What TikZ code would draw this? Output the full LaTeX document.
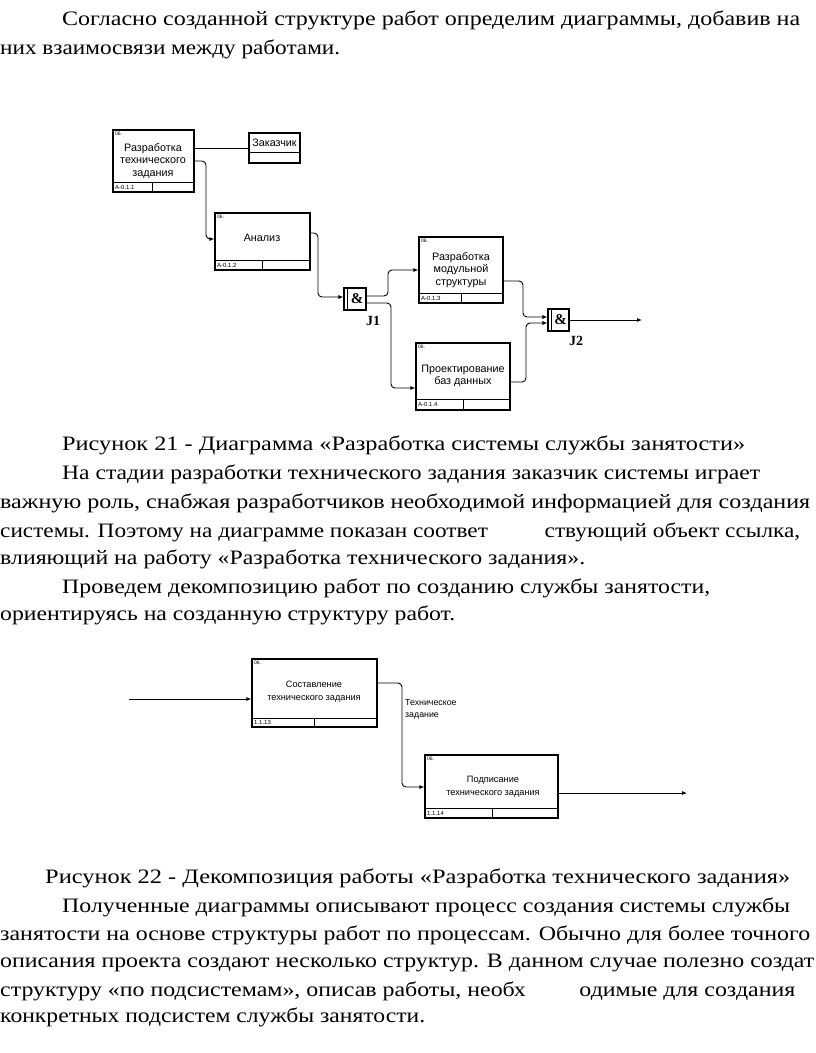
\documentclass[tikz,border=0pt]{standalone}
\usepackage{fontspec}
\setmainfont{Liberation Serif}
\newfontfamily\arialf{Liberation Sans}
\usetikzlibrary{arrows.meta,fit}
\newcommand\tline[5]{\node[anchor=base west, inner sep=0] (#1) at (#2,-#3) {\resizebox{#4pt}{\height}{#5}};}
\begin{document}
\begin{tikzpicture}[x=1pt,y=1pt,
  every node/.append style={font=\fontsize{20.5}{24}\selectfont},
  fbox/.style={draw, line width=1.2pt, inner sep=0pt},
  strip/.style={line width=1pt},
  btxt/.style={font=\arialf\fontsize{10.8}{12.6}\selectfont, align=center, inner sep=0pt},
  btxtb/.style={font=\arialf\fontsize{9.2}{13}\selectfont, align=center, inner sep=0pt},
  tinyl/.style={font=\arialf\fontsize{5}{6}\selectfont, inner sep=0pt, anchor=north west},
  idl/.style={font=\arialf\fontsize{6}{7}\selectfont, inner sep=0pt, anchor=west},
  conn/.style={line width=0.9pt, rounded corners=4pt},
  arr/.style={conn, -{Latex[length=5pt,width=4pt]}},
  jbox/.style={draw, line width=1.1pt, inner sep=0pt},
  jamp/.style={font=\bfseries\fontsize{15}{15}\selectfont, inner sep=0pt},
  jlab/.style={font=\bfseries\fontsize{14}{14}\selectfont, inner sep=0pt}
]
\useasboundingbox (0,0) rectangle (816,-1053);

% ---------------- text ----------------
\tline{t1}{62}{25}{738}{Согласно созданной структуре работ определим диаграммы, добавив на}
\tline{t2}{0}{54}{340}{них взаимосвязи между работами.}
\tline{t3}{62}{450}{683}{Рисунок 21 - Диаграмма «Разработка системы службы занятости»}
\tline{t4}{62}{479}{698}{На стадии разработки технического задания заказчик системы играет}
\tline{t5}{0}{508}{810}{важную роль, снабжая разработчиков необходимой информацией для создания}
\tline{t6}{0}{537}{800}{системы. Поэтому на диаграмме показан соответ\hspace{50pt}ствующий объект ссылка,}
\tline{t7}{0}{564}{585}{влияющий на работу «Разработка технического задания».}
\tline{t8}{62}{593}{648}{Проведем декомпозицию работ по созданию службы занятости,}
\tline{t9}{0}{620}{455}{ориентируясь на созданную структуру работ.}
\tline{t10}{45}{883}{745}{Рисунок 22 - Декомпозиция работы «Разработка технического задания»}
\tline{t11}{62}{912}{728}{Полученные диаграммы описывают процесс создания системы службы}
\tline{t12}{0}{940}{810}{занятости на основе структуры работ по процессам. Обычно для более точного}
\tline{t13}{0}{967}{814}{описания проекта создают несколько структур. В данном случае полезно создат}
\tline{t14}{0}{996}{795}{структуру «по подсистемам», описав работы, необх\hspace{46pt}одимые для создания}
\tline{t15}{0}{1022}{425}{конкретных подсистем службы занятости.}

% ---------------- diagram 1 ----------------
% box 1
\node[fbox, fit={(113,-130)(194,-192)}] (b1) {};
\draw[strip] (b1.west |- 0,-182) -- (b1.east |- 0,-182);
\draw[strip] (152,-182) -- (b1.south -| 152,0);
\node[btxt] (b1t) at (153,-161) {Разработка\\технического\\задания};
\node[tinyl] (b1n) at (115,-132) {06.};
\node[idl] (b1i) at (115,-187) {A-0.1.1};

% Заказчик
\node[fbox, fit={(249,-133)(300,-163)}] (zak) {};
\draw[strip] (zak.west |- 0,-152) -- (zak.east |- 0,-152);
\node[btxt] (zakt) at (274.5,-142.5) {Заказчик};
\draw[conn] (b1.east |- 0,-148) -- (zak.west |- 0,-148);

% Анализ
\node[fbox, fit={(215,-213)(310,-270)}] (an) {};
\draw[strip] (an.west |- 0,-260) -- (an.east |- 0,-260);
\draw[strip] (262,-260) -- (an.south -| 262,0);
\node[btxt] (ant) at (262,-238) {Анализ};
\node[tinyl] (ann) at (217,-215) {06.};
\node[idl] (ani) at (217,-265) {A-0.1.2};
\draw[arr] (b1.east |- 0,-161) -- (206,-161) -- (206,-239) -- (an.west |- 0,-239);

% J1
\node[jbox, fit={(344,-288)(366,-310)}] (j1) {};
\draw[line width=1.1pt] (347.5,-288) -- (347.5,-310);
\node[jamp] (j1a) at (357,-299) {\&};
\node[jlab] (j1l) at (373,-321) {J1};
\draw[arr] (an.east |- 0,-233) -- (318,-233) -- (318,-297) -- (j1.west |- 0,-297);

% box 3
\node[fbox, fit={(419,-237)(503,-303)}] (b3) {};
\draw[strip] (b3.west |- 0,-293) -- (b3.east |- 0,-293);
\draw[strip] (461,-293) -- (b3.south -| 461,0);
\node[btxt] (b3t) at (461,-270) {Разработка\\модульной\\структуры};
\node[tinyl] (b3n) at (421,-239) {06.};
\node[idl] (b3i) at (421,-298) {A-0.1.3};

% box 4
\node[fbox, fit={(416,-343)(510,-410)}] (b4) {};
\draw[strip] (b4.west |- 0,-399) -- (b4.east |- 0,-399);
\draw[strip] (463,-399) -- (b4.south -| 463,0);
\node[btxt] (b4t) at (463,-376) {Проектирование\\баз данных};
\node[tinyl] (b4n) at (418,-345) {06.};
\node[idl] (b4i) at (418,-404.5) {A-0.1.4};

\draw[arr] (j1.east |- 0,-296) -- (388,-296) -- (388,-270) -- (b3.west |- 0,-270);
\draw[arr] (j1.east |- 0,-303) -- (391,-303) -- (391,-388) -- (b4.west |- 0,-388);

% J2
\node[jbox, fit={(548,-309)(569,-331)}] (j2) {};
\draw[line width=1.1pt] (551.5,-309) -- (551.5,-331);
\node[jamp] (j2a) at (560.5,-320) {\&};
\node[jlab] (j2l) at (576,-341) {J2};
\draw[arr] (b3.east |- 0,-281) -- (523,-281) -- (523,-317) -- (j2.west |- 0,-317);
\draw[arr] (b4.east |- 0,-382) -- (526,-382) -- (526,-323) -- (j2.west |- 0,-323);
\coordinate (o1) at (642,-320);
\draw[arr] (j2.east |- 0,-320) -- (o1);

% ---------------- diagram 2 ----------------
\node[fbox, fit={(252,-659)(377,-727)}] (bA) {};
\draw[strip] (bA.west |- 0,-718) -- (bA.east |- 0,-718);
\draw[strip] (314,-718) -- (bA.south -| 314,0);
\node[btxtb] (bAt) at (314,-692) {Составление\\технического задания};
\node[tinyl] (bAn) at (254,-661) {06.};
\node[idl] (bAi) at (254,-722.5) {1.1.13};

\node[fbox, fit={(425,-755)(558,-818)}] (bB) {};
\draw[strip] (bB.west |- 0,-808) -- (bB.east |- 0,-808);
\draw[strip] (492,-808) -- (bB.south -| 492,0);
\node[btxtb] (bBt) at (493,-787) {Подписание\\технического задания};
\node[tinyl] (bBn) at (427,-757) {06.};
\node[idl] (bBi) at (427,-813) {1.1.14};

\coordinate (in2) at (129,-699);
\draw[arr] (in2) -- (bA.west |- 0,-699);
\draw[arr] (bA.east |- 0,-683) -- (402,-683) -- (402,-787) -- (bB.west |- 0,-787);
\node[font=\arialf\fontsize{8.8}{12.5}\selectfont, align=left, anchor=west, inner sep=0pt] (tz) at (405,-709.5) {Техническое\\задание};
\coordinate (o2) at (687,-793);
\draw[arr] (bB.east |- 0,-793) -- (o2);
\end{tikzpicture}
\end{document}
